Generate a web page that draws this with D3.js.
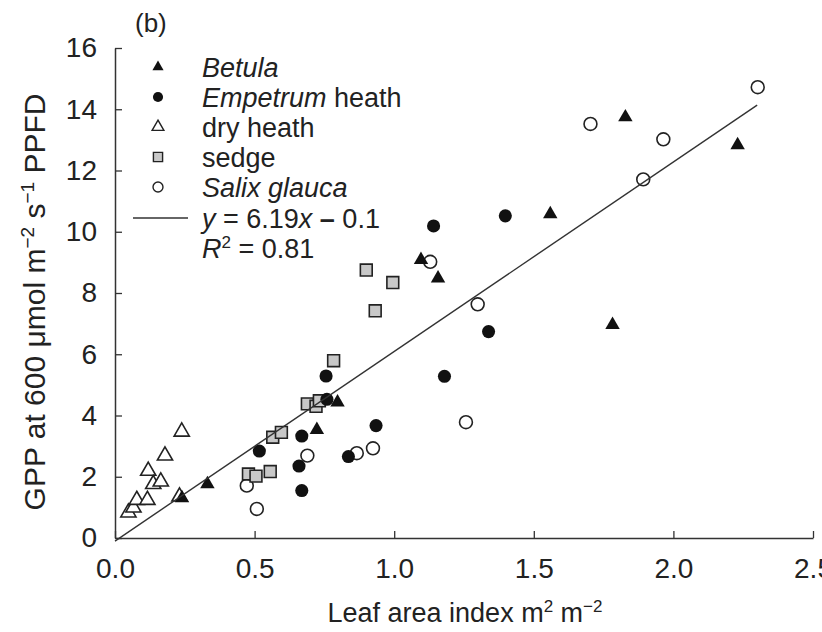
<!DOCTYPE html>
<html>
<head>
<meta charset="utf-8">
<script src="https://cdn.jsdelivr.net/npm/d3@7"></script>
<style>
  body { margin: 0; background: #fff; }
  svg text { font-family: "Liberation Sans", Arial, sans-serif; fill: #222; }
</style>
</head>
<body>
<div id="chart"></div>
<script>
// leaf area index (x) vs GPP (y)
var betula = [[0.24,1.3],[0.331,1.76],[0.723,3.53],[0.797,4.43],[1.096,9.08],
              [1.157,8.48],[1.559,10.58],[1.782,6.96],[1.828,13.74],[2.23,12.83]];
var empetrum = [[0.517,2.84],[0.659,2.35],[0.669,1.55],[0.669,3.33],[0.756,5.29],
                [0.759,4.53],[0.836,2.66],[0.935,3.67],[1.141,10.19],[1.18,5.28],
                [1.338,6.74],[1.398,10.52]];
var dryHeath = [[0.048,0.83],[0.066,0.99],[0.078,1.24],[0.116,1.24],[0.119,2.19],
                [0.137,1.76],[0.164,1.84],[0.179,2.69],[0.231,1.35],[0.239,3.47]];
var sedge = [[0.478,2.09],[0.505,2.02],[0.556,2.17],[0.565,3.29],[0.596,3.45],
             [0.689,4.38],[0.72,4.3],[0.732,4.48],[0.783,5.79],[0.9,8.75],
             [0.932,7.42],[0.995,8.34]];
var salix = [[0.472,1.71],[0.508,0.95],[0.689,2.69],[0.866,2.77],[0.924,2.93],
             [1.129,9.02],[1.257,3.78],[1.299,7.63],[1.703,13.52],[1.892,11.71],
             [1.964,13.02],[2.302,14.72]];

var slope = 6.19, intercept = -0.1, fitRange = [0, 2.3];
var xTicks = [0, 0.5, 1.0, 1.5, 2.0, 2.5];
var yTicks = [0, 2, 4, 6, 8, 10, 12, 14, 16];

var W = 822, H = 632;
var svg = d3.select("#chart").append("svg")
    .attr("width", W)
    .attr("height", H);

var x = d3.scaleLinear().domain([0, 2.5]).range([115, 813]);
var y = d3.scaleLinear().domain([0, 16]).range([538, 48]);

//axes, ticks pointing inward
var xAxis = d3.axisBottom(x).tickValues(xTicks).tickFormat(d3.format(".1f"))
    .tickSizeInner(-7).tickSizeOuter(0).tickPadding(20);
var yAxis = d3.axisLeft(y).tickValues(yTicks).tickFormat(d3.format("d"))
    .tickSizeInner(-7).tickSizeOuter(0).tickPadding(18);

var gx = svg.append("g").attr("transform", "translate(0,538)").call(xAxis);
var gy = svg.append("g").attr("transform", "translate(115,0)").call(yAxis);
[gx, gy].forEach(function (g) {
  g.select(".domain").attr("stroke", "#333").attr("stroke-width", 1.5);
  g.selectAll(".tick line").attr("stroke", "#333").attr("stroke-width", 1.3);
  g.selectAll(".tick text").attr("font-size", 28).attr("fill", "#222")
    .style("font-family", '"Liberation Sans", Arial, sans-serif');
});

// marker styles
var styles = {
  betula:   {type: d3.symbolTriangle, size: 90,  fill: "#111", stroke: "none"},
  empetrum: {type: d3.symbolCircle,   size: 135, fill: "#111", stroke: "none"},
  dry:      {type: d3.symbolTriangle, size: 100, fill: "#fff", stroke: "#222"},
  sedge:    {type: d3.symbolSquare,   size: 140, fill: "#c8c8c8", stroke: "#222"},
  salix:    {type: d3.symbolCircle,   size: 130, fill: "#fff", stroke: "#222"}
};

function drawSeries(data, st) {
  svg.append("g").selectAll("path")
    .data(data)
    .enter().append("path")
    .attr("transform", function (d) { return "translate(" + x(d[0]) + "," + y(d[1]) + ")"; })
    .attr("d", d3.symbol().type(st.type).size(st.size))
    .attr("fill", st.fill)
    .attr("stroke", st.stroke)
    .attr("stroke-width", 1.6);
}
drawSeries(salix, styles.salix);
drawSeries(sedge, styles.sedge);
drawSeries(dryHeath, styles.dry);
drawSeries(empetrum, styles.empetrum);
drawSeries(betula, styles.betula);

// regression line
svg.append("path")
  .datum(fitRange)
  .attr("d", d3.line().x(function (d) { return x(d); })
                     .y(function (d) { return y(slope * d + intercept); }))
  .attr("stroke", "#333")
  .attr("stroke-width", 1.4)
  .attr("fill", "none");

// panel label
svg.append("text").attr("x", 135).attr("y", 32).attr("font-size", 26).text("(b)");

// legend
var legend = [
  {st: styles.betula,   parts: [["Betula", true]]},
  {st: styles.empetrum, parts: [["Empetrum", true], [" heath", false]]},
  {st: styles.dry,      parts: [["dry heath", false]]},
  {st: styles.sedge,    parts: [["sedge", false]]},
  {st: styles.salix,    parts: [["Salix glauca", true]]}
];
legend.forEach(function (item, i) {
  var cy = 67 + i * 30;
  svg.append("path")
    .attr("transform", "translate(158," + cy + ")")
    .attr("d", d3.symbol().type(item.st.type).size(item.st.size * 0.6))
    .attr("fill", item.st.fill)
    .attr("stroke", item.st.stroke)
    .attr("stroke-width", 1.4);
  var t = svg.append("text").attr("x", 202).attr("y", cy + 10).attr("font-size", 27);
  item.parts.forEach(function (p) {
    t.append("tspan").attr("font-style", p[1] ? "italic" : "normal").text(p[0]);
  });
});

svg.append("line").attr("x1", 133).attr("x2", 188).attr("y1", 218).attr("y2", 218)
  .attr("stroke", "#333").attr("stroke-width", 1.4);
var eq = svg.append("text").attr("x", 202).attr("y", 228).attr("font-size", 27);
eq.append("tspan").attr("font-style", "italic").text("y");
eq.append("tspan").text(" = " + slope.toFixed(2));
eq.append("tspan").attr("font-style", "italic").text("x");
eq.append("tspan").attr("font-weight", "bold").text(" \u2013 ");
eq.append("tspan").text(Math.abs(intercept).toFixed(1));

var r2 = svg.append("text").attr("x", 202).attr("y", 258).attr("font-size", 27);
r2.append("tspan").attr("font-style", "italic").text("R");
r2.append("tspan").attr("font-size", 17).attr("dy", -10).text("2");
r2.append("tspan").attr("dy", 10).text(" = 0.81");

// axis titles
var xt = svg.append("text").attr("x", 465).attr("y", 622)
  .attr("text-anchor", "middle").attr("font-size", 27);
xt.append("tspan").text("Leaf area index m");
xt.append("tspan").attr("font-size", 17).attr("dy", -10).text("2");
xt.append("tspan").attr("dy", 10).text(" m");
xt.append("tspan").attr("font-size", 17).attr("dy", -10).text("\u22122");

var yt = svg.append("text")
  .attr("transform", "translate(45,302) rotate(-90)")
  .attr("text-anchor", "middle").attr("font-size", 30);
yt.append("tspan").text("GPP at 600 \u03bcmol m");
yt.append("tspan").attr("font-size", 19).attr("dy", -11).text("\u22122");
yt.append("tspan").attr("dy", 11).text(" s");
yt.append("tspan").attr("font-size", 19).attr("dy", -11).text("\u22121");
yt.append("tspan").attr("dy", 11).text(" PPFD");
</script>
</body>
</html>
